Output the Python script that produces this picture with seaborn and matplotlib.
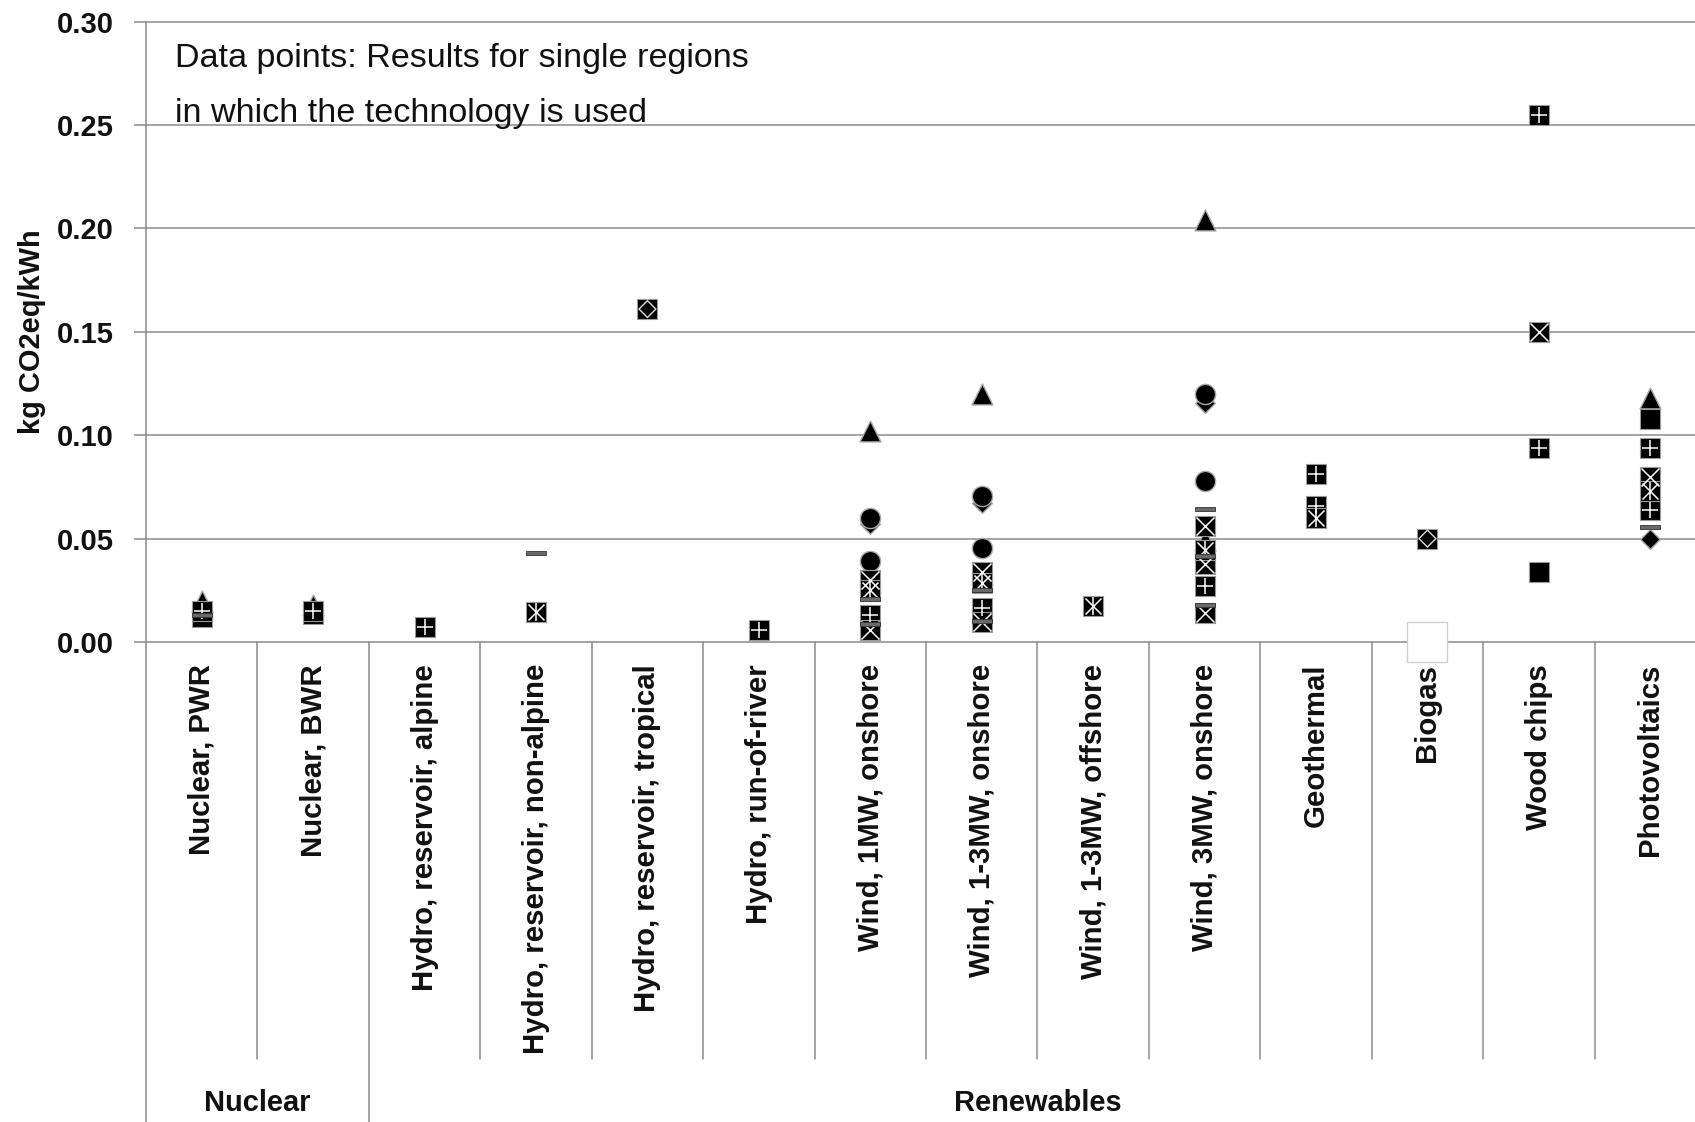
import numpy as np
import pandas as pd
import matplotlib
matplotlib.use("Agg")
import matplotlib.pyplot as plt
from matplotlib import font_manager as fm
import seaborn as sns

nan = np.nan

# ---- data -------------------------------------------------------------
categories = [
    "Nuclear, PWR", "Nuclear, BWR",
    "Hydro, reservoir, alpine", "Hydro, reservoir, non-alpine",
    "Hydro, reservoir, tropical", "Hydro, run-of-river",
    "Wind, 1MW, onshore", "Wind, 1-3MW, onshore", "Wind, 1-3MW, offshore",
    "Wind, 3MW, onshore", "Geothermal", "Biogas", "Wood chips", "Photovoltaics",
]
group_names = ["Nuclear", "Renewables"]
group_sizes = [2, 12]

y_ticks = [0.00, 0.05, 0.10, 0.15, 0.20, 0.25, 0.30]

# values per region series, one entry per category (nan = not used there)
#                PWR    BWR    alp    nalp   trop   ror    W1     W13on  W13off W3     Geo    Bio    Wood   PV
triangle     = [0.020, 0.018, nan,   nan,   nan,   nan,   0.102, 0.120, nan,   0.204, nan,   nan,   nan,   0.118]
triangle_b   = [nan,   nan,   nan,   nan,   nan,   nan,   0.029, 0.033, nan,   0.0495, nan,  nan,   nan,   nan]
diamond      = [nan,   nan,   nan,   nan,   nan,   nan,   0.057, 0.067, nan,   0.1155, nan,  nan,   nan,   0.050]
circle_hi    = [nan,   nan,   nan,   nan,   nan,   nan,   0.060, 0.0707, nan,  0.120, nan,   nan,   nan,   nan]
circle_lo    = [nan,   nan,   nan,   nan,   nan,   nan,   0.039, 0.0455, nan,  0.0777, nan,  nan,   nan,   nan]
square       = [0.012, 0.0135, nan,  nan,   nan,   nan,   nan,   nan,   nan,   nan,   nan,   nan,   0.034, 0.108]
plus_a       = [0.015, 0.015, 0.0071, nan,  nan,   0.0057, 0.013, 0.0166, nan, 0.027, 0.081, nan,   0.255, 0.094]
plus_b       = [nan,   nan,   nan,   nan,   nan,   nan,   nan,   nan,   nan,   nan,   0.066, nan,   0.094, 0.064]
cross_a      = [nan,   nan,   nan,   nan,   nan,   nan,   0.030, 0.034, nan,   0.056, nan,   nan,   0.150, 0.080]
cross_b      = [nan,   nan,   nan,   nan,   nan,   nan,   0.006, 0.0095, nan,  0.0375, nan,  nan,   nan,   nan]
cross_c      = [nan,   nan,   nan,   nan,   nan,   nan,   nan,   nan,   nan,   0.014, nan,   nan,   nan,   nan]
star         = [nan,   nan,   nan,   0.0146, nan,  nan,   0.025, 0.0286, 0.0174, 0.0447, 0.060, nan,  nan,   0.073]
dash_a       = [0.013, nan,   nan,   0.043, nan,   nan,   0.021, 0.025, nan,   0.0645, nan,   nan,   nan,   0.0555]
dash_b       = [nan,   nan,   nan,   nan,   nan,   nan,   0.0085, 0.010, nan,  0.0415, nan,   nan,   nan,   nan]
dash_c       = [nan,   nan,   nan,   nan,   nan,   nan,   nan,   nan,   nan,   0.018, nan,   nan,   nan,   nan]
framed_diamond = [nan, nan,   nan,   nan,   0.161, nan,   nan,   nan,   nan,   nan,   nan,   0.050, nan,   nan]
blank        = [nan,   nan,   nan,   nan,   nan,   nan,   nan,   nan,   nan,   nan,   nan,   0.000, nan,   nan]

series = {
    "triangle": triangle, "triangle_b": triangle_b, "diamond": diamond,
    "circle_hi": circle_hi, "circle_lo": circle_lo, "square": square,
    "plus_a": plus_a, "plus_b": plus_b,
    "cross_a": cross_a, "cross_b": cross_b, "cross_c": cross_c,
    "star": star, "dash_a": dash_a, "dash_b": dash_b, "dash_c": dash_c,
    "framed_diamond": framed_diamond, "blank": blank,
}

rows = [(cat, name, v)
        for name, vals in series.items()
        for cat, v in zip(categories, vals) if not np.isnan(v)]
df = pd.DataFrame(rows, columns=["category", "series", "value"])
df["x"] = pd.Categorical(df["category"], categories=categories).codes

# ---- fonts --------------------------------------------------------------
sns.set_style("white")
_names = {f.name for f in fm.fontManager.ttflist}
if "Liberation Sans Narrow" in _names:
    NARROW, k = "Liberation Sans Narrow", 1.0
else:
    NARROW, k = "Liberation Sans", 0.82
plt.rcParams["font.family"] = ["Liberation Sans", "DejaVu Sans"]

GRID = "#8c8c8c"
TXT = "#111111"

# ---- figure -------------------------------------------------------------
W, H = 1695, 1122
fig = plt.figure(figsize=(W / 100, H / 100), dpi=100, facecolor="white")
ax_left, ax_right = 146, 146 + 14 * 111.43
ax_top, ax_bot = 21.6, 642
ax = fig.add_axes([ax_left / W, 1 - ax_bot / H,
                   (ax_right - ax_left) / W, (ax_bot - ax_top) / H])
ax.set_xlim(-0.5, len(categories) - 0.5)
ax.set_ylim(0, 0.30)
ax.set_axisbelow(True)
for sp in ax.spines.values():
    sp.set_visible(False)

# ---- markers (layered to build boxed glyphs) ------------------------------
dash_marker = [(-1, -0.22), (1, -0.22), (1, 0.22), (-1, 0.22), (-1, -0.22)]
layers = [
    (["triangle", "triangle_b"], "^", 15, "black", "#a8a8a8", 1.0, 3.0),
    (["diamond"], "D", 10, "black", "#a8a8a8", 1.0, 3.2),
    (["circle_hi", "circle_lo"], "o", 14.5, "black", "#a8a8a8", 1.0, 3.4),
    (["square", "plus_a", "plus_b", "cross_a", "cross_b", "cross_c", "star",
      "framed_diamond"], "s", 15, "black", "#9a9a9a", 0.8, 4.0),
    (["plus_a", "plus_b"], "+", 12, "white", None, 1.1, 5.0),
    (["cross_a", "cross_b", "cross_c"], "x", 13, "white", None, 1.1, 5.0),
    (["star"], "x", 11.5, "white", None, 1.1, 5.0),
    (["star"], "|", 12.5, "white", None, 1.1, 5.0),
    (["framed_diamond"], "D", 9.6, "#dcdcdc", "none", 0, 5.0),
    (["framed_diamond"], "D", 7.6, "black", "none", 0, 5.1),
    (["dash_a", "dash_b", "dash_c"], dash_marker, 14, "#6a6a6a", "#333333", 0.6, 6.0),
    (["blank"], "s", 29.5, "white", "#cfcfcf", 1.0, 7.0),
]
for names, marker, size, face, edge, lw, z in layers:
    sub = df[df["series"].isin(names)]
    kws = dict(data=sub, x="x", y="value", marker=marker, s=size ** 2,
               color=face, linewidth=lw, legend=False, ax=ax, zorder=z,
               clip_on=False)
    if edge is not None:
        kws["edgecolor"] = edge
    sns.scatterplot(**kws)

# ---- y axis -------------------------------------------------------------
ax.set_yticks(y_ticks)
ax.set_yticklabels([f"{t:.2f}" for t in y_ticks], fontsize=21,
                   fontweight="bold", color=TXT)
ax.tick_params(axis="y", length=8.6, width=1.1, color=GRID, pad=14.5,
               left=True)
ax.yaxis.grid(True, color=GRID, linewidth=1.1)
for gl in ax.get_ygridlines():
    gl.set_clip_on(False)
ax.set_ylabel("")
fig.text(32 / W, 1 - 332 / H, "kg CO2eq/kWh", rotation=90, ha="center",
         va="center", fontsize=25.5 * k, fontweight="bold", family=NARROW,
         color=TXT)

# ---- x axis: category labels and multi-level dividers ---------------------
ax.set_xlabel("")
ax.set_xticks(range(len(categories)))
ax.set_xticklabels(categories, rotation=90, fontsize=25.8 * k,
                   fontweight="bold", family=NARROW, color=TXT)
ax.tick_params(axis="x", length=0, pad=15.8)

axh = ax_bot - ax_top
y_inner = -(1059 - ax_bot) / axh
y_fig_bottom = -(H - ax_bot + 5) / axh
trans = ax.get_xaxis_transform()
group_edges = np.cumsum([0] + group_sizes)
for i in range(len(categories) + 1):
    xpos = i - 0.5
    if i in group_edges:
        y0, y1 = (1.0 if i == 0 else 0.0), y_fig_bottom
    else:
        y0, y1 = 0.0, y_inner
    ax.plot([xpos, xpos], [y0, y1], transform=trans, color=GRID,
            linewidth=1.1, clip_on=False, zorder=2)

y_group = -(1103 - ax_bot) / axh
for name, a, b in zip(group_names, group_edges[:-1], group_edges[1:]):
    ax.text((a + b - 1) / 2, y_group, name, transform=trans, ha="center",
            va="center", fontsize=25.5 * k, fontweight="bold", family=NARROW,
            color=TXT)

# ---- note ----------------------------------------------------------------
fig.text(175 / W, 1 - 67 / H, "Data points: Results for single regions",
         ha="left", va="baseline", fontsize=30 * k, family=NARROW, color=TXT)
fig.text(175 / W, 1 - 122 / H, "in which the technology is used",
         ha="left", va="baseline", fontsize=30 * k, family=NARROW, color=TXT)

fig.savefig("out.png", dpi=100, facecolor="white")
